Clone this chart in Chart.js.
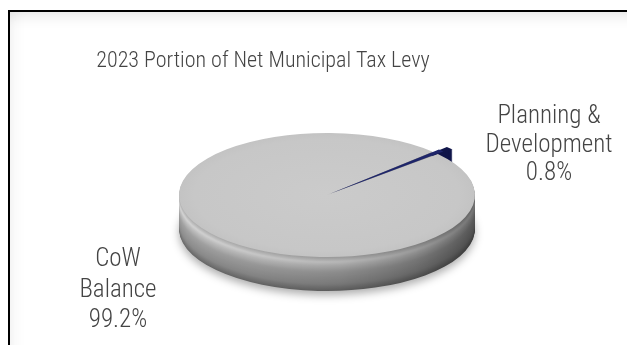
<!DOCTYPE html>
<html>
<head>
<meta charset="utf-8">
<script src="https://cdn.jsdelivr.net/npm/chart.js@4.4.1/dist/chart.umd.min.js"></script>
<style>
  html, body { margin: 0; padding: 0; background: #fff; }
  #wrap { position: relative; width: 627px; height: 345px; overflow: hidden; background: #fff; }
  #frame {
    position: absolute; left: 8px; top: 10px; width: 660px; height: 380px;
    border-top: 2px solid #000; border-left: 2px solid #000;
    box-shadow: inset 0 12px 14px -8px rgba(0,0,0,0.10), inset 12px 0 16px -10px rgba(0,0,0,0.06);
  }
  canvas { position: absolute; left: 0; top: 0; }
</style>
</head>
<body>
<div id="wrap">
  <div id="frame"></div>
  <canvas id="chart" width="627" height="345"></canvas>
</div>
<script>
// Chart content
const chartTitle = '2023 Portion of Net Municipal Tax Levy';
const categories = ['CoW Balance', 'Planning & Development'];
const categoryLines = [['CoW', 'Balance'], ['Planning &', 'Development']];
const shares = [99.2, 0.8];

// Look of the tilted disc
const FACE = { cx: 327, cy: 195, rx: 148, ry: 62, depth: 34 };
const PLANNING_TOP = '#1e256a';
const PLANNING_SIDE = '#10154a';
const FONT = '"Liberation Sans Narrow", "Arial Narrow", "Roboto Condensed", "Liberation Sans", sans-serif';
const TEXT = '#444444';

function lerpStops(stops, t) {
  for (let i = 1; i < stops.length; i++) {
    if (t <= stops[i][0]) {
      const [t0, v0] = stops[i - 1], [t1, v1] = stops[i];
      return v0 + (v1 - v0) * (t - t0) / (t1 - t0);
    }
  }
  return stops[stops.length - 1][1];
}
// brightness down the rim of the disc (bevel highlight near the top)
const RIM_SHADE = [[0, 0.78], [0.06, 0.84], [0.16, 0.96], [0.27, 0.86], [0.46, 0.73], [0.8, 0.63], [1, 0.48]];
// brightness across the disc from left to right
const SPAN_SHADE = [[0, 1.08], [0.3, 1.0], [0.55, 0.93], [0.8, 0.79], [1, 0.60]];
const grey = g => { const v = Math.max(0, Math.min(255, Math.round(g))); return `rgb(${v},${v},${v})`; };

function pieView(chart) {
  const arc = chart.getDatasetMeta(0).data[0];
  const R = arc.outerRadius;
  return { x: arc.x, y: arc.y, R, sx: FACE.rx / R, sy: FACE.ry / R };
}

// same geometry ArcElement uses for an offset slice
function slicePath(ctx, arc, dy) {
  const p = arc.getProps(['x', 'y', 'startAngle', 'endAngle', 'outerRadius', 'circumference']);
  const off = arc.options.offset || 0;
  const mid = (p.startAngle + p.endAngle) / 2;
  const fix = 1 - Math.sin(Math.min(Math.PI, p.circumference || 0));
  const r = p.outerRadius + off * fix;
  const ox = p.x + Math.cos(mid) * off / 4;
  const oy = p.y + Math.sin(mid) * off / 4 + dy;
  ctx.beginPath();
  ctx.moveTo(ox, oy);
  ctx.arc(ox, oy, r, p.startAngle, p.endAngle);
  ctx.closePath();
}

function faceFill(c) {
  const chart = c.chart;
  const a = chart.chartArea;
  if (!a) return '#c8c8c8';
  const x = (a.left + a.right) / 2, y = (a.top + a.bottom) / 2;
  const R = Math.min(a.right - a.left, a.bottom - a.top) / 2;
  const g = chart.ctx.createRadialGradient(x, y, 0, x, y, R);
  g.addColorStop(0, '#cbcbcb');
  g.addColorStop(0.85, '#c7c7c7');
  g.addColorStop(0.95, '#c3c3c3');
  g.addColorStop(1, '#b9b9b9');
  return g;
}

const discPlugin = {
  id: 'disc',
  beforeDatasetsDraw(chart) {
    const ctx = chart.ctx;
    const v = pieView(chart);
    const arcs = chart.getDatasetMeta(0).data;
    ctx.save();
    ctx.translate(FACE.cx, FACE.cy);
    ctx.scale(v.sx, v.sy);
    ctx.translate(-v.x, -v.y);

    // the small slice is pulled out, so its wall is laid first
    for (let d = FACE.depth; d >= 1; d--) {
      ctx.fillStyle = PLANNING_SIDE;
      slicePath(ctx, arcs[1], d / v.sy);
      ctx.fill();
    }
    // wall of the big slice, one stripe per pixel of depth
    for (let d = FACE.depth; d >= 1; d--) {
      const rim = lerpStops(RIM_SHADE, d / FACE.depth);
      const g = ctx.createLinearGradient(v.x - v.R, 0, v.x + v.R, 0);
      for (const [t] of SPAN_SHADE) g.addColorStop(t, grey(205 * rim * lerpStops(SPAN_SHADE, t)));
      ctx.save();
      if (d === FACE.depth) {
        ctx.shadowColor = 'rgba(0,0,0,0.32)';
        ctx.shadowBlur = 9;
        ctx.shadowOffsetY = 4;
      }
      ctx.fillStyle = g;
      slicePath(ctx, arcs[0], d / v.sy);
      ctx.fill();
      ctx.restore();
    }
  },
  afterDatasetsDraw(chart) {
    chart.ctx.restore();
  },
  afterDraw(chart) {
    const ctx = chart.ctx;
    ctx.save();
    ctx.fillStyle = TEXT;
    ctx.textAlign = 'center';
    ctx.textBaseline = 'alphabetic';
    ctx.font = `300 22px ${FONT}`;
    ctx.fillText(chartTitle, 263, 67);

    ctx.font = `300 25px ${FONT}`;
    const blocks = [
      { x: 118, y: 266, lh: 30.5 },  // CoW Balance
      { x: 549, y: 123, lh: 28.5 }   // Planning & Development
    ];
    shares.forEach((s, i) => {
      const lines = categoryLines[i].concat([s.toFixed(1) + '%']);
      lines.forEach((t, j) => ctx.fillText(t, blocks[i].x, blocks[i].y + j * blocks[i].lh));
    });
    ctx.restore();
  }
};

new Chart(document.getElementById('chart'), {
  type: 'pie',
  data: {
    labels: categories,
    datasets: [{
      data: shares,
      backgroundColor: c => (c.dataIndex === 1 ? PLANNING_TOP : faceFill(c)),
      borderWidth: 0,
      offset: [0, 16],
      clip: false
    }]
  },
  options: {
    responsive: false,
    animation: false,
    events: [],
    rotation: 48.5,
    layout: { padding: { left: 170, right: 150, top: 20, bottom: 20 } },
    plugins: {
      legend: { display: false },
      tooltip: { enabled: false },
      title: { display: false }
    }
  },
  plugins: [discPlugin]
});
</script>
</body>
</html>
